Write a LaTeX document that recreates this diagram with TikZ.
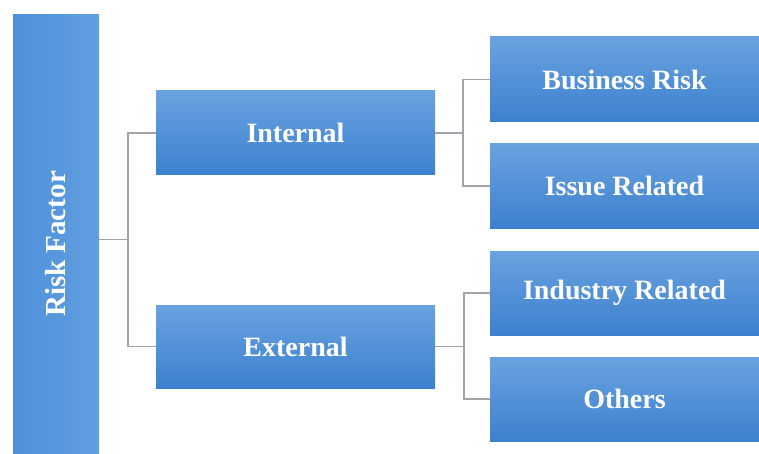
\documentclass[tikz,border=0pt]{standalone}
\usepackage{fontspec}
\setmainfont{Liberation Serif}
\definecolor{boxtop}{RGB}{106,162,224}
\definecolor{boxbot}{RGB}{60,129,206}
\definecolor{vleft}{RGB}{78,144,218}
\definecolor{vright}{RGB}{98,158,224}
\definecolor{linkgray}{RGB}{160,164,170}
\begin{document}
\begin{tikzpicture}[x=1pt,y=-1pt,
  blk/.style={rectangle, inner sep=0pt, draw=none,
    top color=boxtop, bottom color=boxbot, text=white,
    font=\fontsize{28}{30}\selectfont\bfseries},
  vblk/.style={rectangle, inner sep=0pt, draw=none,
    left color=vleft, right color=vright, text=white},
  vlbl/.style={text=white, font=\fontsize{29}{31}\selectfont\bfseries, rotate=90},
  link/.style={draw=linkgray, line width=1.3pt}]
\useasboundingbox (0,0) rectangle (759,454);
% nodes
\node[vblk, minimum width=86pt, minimum height=439pt] (risk) at (56,234.5) {};
\node[vlbl] (risklbl) at (56,244) {Risk Factor};
\node[blk, minimum width=279pt, minimum height=84pt] (internal) at (295.5,133) {Internal};
\node[blk, minimum width=279pt, minimum height=83pt] (external) at (295.5,346.5) {External};
\node[blk, minimum width=269pt, minimum height=85pt] (business) at (624.5,79.5) {Business Risk};
\node[blk, minimum width=269pt, minimum height=84pt] (issue) at (624.5,186) {Issue Related};
\node[blk, minimum width=269pt, minimum height=84pt] (industry) at (624.5,293) {Industry Related};
\node[blk, minimum width=269pt, minimum height=84pt] (others) at (624.5,399) {Others};
% junctions
\coordinate (jA) at (128,239.5);
\coordinate (jB) at (463,133);
\coordinate (jC) at (464,346.5);
% connectors
\draw[link] (risk.east |- jA) -- (jA);
\draw[link] (internal.west) -| (jA |- internal.west) |- (external.west);
\draw[link] (internal.east) -- (jB);
\draw[link] (business.west) -| (jB) |- (issue.west);
\draw[link] (external.east) -- (jC);
\draw[link] (industry.west) -| (jC) |- (others.west);
\end{tikzpicture}
\end{document}
